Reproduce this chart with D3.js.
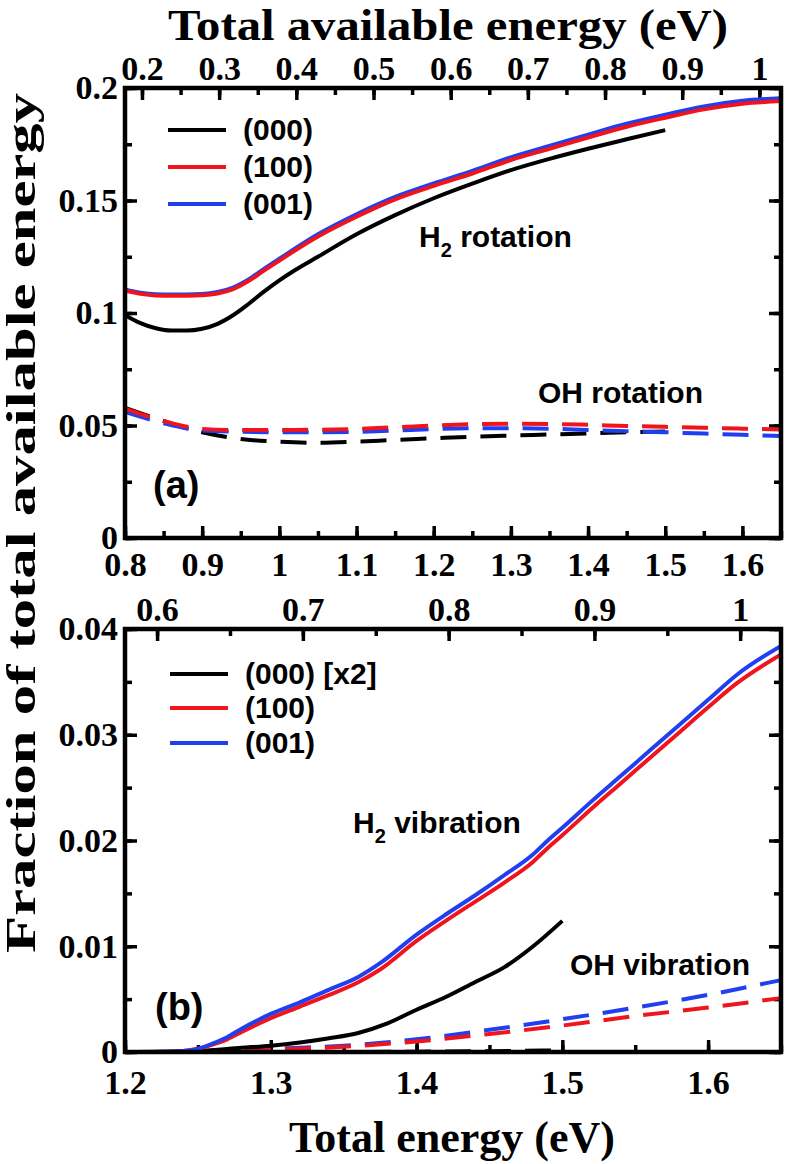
<!DOCTYPE html>
<html><head><meta charset="utf-8">
<script src="https://cdn.jsdelivr.net/npm/d3@7"></script>
<style>
html,body{margin:0;padding:0;background:#fff;}
svg{display:block;}
</style></head>
<body>
<svg id="chart" width="787" height="1164"></svg>
<script>
// ---------------- DATA ----------------
// Panel (a): rotation fractions vs total energy (eV)
const eA_black = [0.80,0.82,0.84,0.86,0.88,0.90,0.92,0.94,0.96,0.98,1.00,1.02,1.05,1.10,1.15,1.20,1.25,1.30,1.35,1.40,1.45,1.50];
const h2rot_000 = [0.0990,0.0955,0.0932,0.0922,0.0922,0.0930,0.0952,0.0990,0.1040,0.1095,0.1145,0.1190,0.1250,0.1350,0.1435,0.1510,0.1575,0.1635,0.1685,0.1730,0.1772,0.1813];
const eA_full = [0.80,0.82,0.84,0.86,0.88,0.90,0.92,0.94,0.96,0.98,1.00,1.05,1.10,1.15,1.20,1.25,1.30,1.35,1.40,1.45,1.50,1.55,1.60,1.65];
const h2rot_100 = [0.1100,0.1085,0.1078,0.1077,0.1077,0.1079,0.1087,0.1106,0.1142,0.1188,0.1233,0.1340,0.1428,0.1505,0.1565,0.1620,0.1680,0.1730,0.1780,0.1828,0.1868,0.1905,0.1930,0.1942];
const h2rot_001 = [0.1105,0.1090,0.1083,0.1082,0.1082,0.1084,0.1093,0.1113,0.1149,0.1196,0.1241,0.1350,0.1439,0.1516,0.1576,0.1632,0.1692,0.1743,0.1793,0.1841,0.1881,0.1918,0.1943,0.1955];
const eA_oh_black = [0.80,0.85,0.90,0.95,1.00,1.05,1.10,1.15,1.20,1.25,1.30,1.35,1.40,1.45,1.50];
const ohrot_000 = [0.0578,0.0520,0.0470,0.0440,0.0428,0.0423,0.0428,0.0436,0.0443,0.0450,0.0455,0.0460,0.0465,0.0470,0.0473];
const eA_oh = [0.80,0.85,0.90,0.95,1.00,1.05,1.10,1.15,1.20,1.25,1.30,1.35,1.40,1.45,1.50,1.55,1.60,1.65];
const ohrot_100 = [0.0575,0.0520,0.0485,0.0480,0.0480,0.0481,0.0485,0.0492,0.0500,0.0506,0.0508,0.0507,0.0503,0.0498,0.0494,0.0490,0.0486,0.0482];
const ohrot_001 = [0.0560,0.0510,0.0478,0.0472,0.0470,0.0470,0.0472,0.0478,0.0484,0.0488,0.0488,0.0486,0.0480,0.0475,0.0470,0.0464,0.0459,0.0453];

// Panel (b): vibration fractions vs total energy (eV)
const eB_full = [1.20,1.22,1.24,1.25,1.26,1.27,1.28,1.30,1.32,1.34,1.36,1.375,1.40,1.42,1.44,1.46,1.48,1.49,1.50,1.52,1.54,1.56,1.58,1.60,1.62,1.65];
const h2vib_100 = [0,0,0.0001,0.0003,0.0007,0.0012,0.0019,0.0032,0.0043,0.0054,0.0066,0.0078,0.0105,0.0124,0.0142,0.0160,0.0180,0.0193,0.0205,0.0230,0.0254,0.0278,0.0302,0.0326,0.0349,0.0376];
const h2vib_001 = [0,0,0.0001,0.0003,0.0008,0.0014,0.0022,0.0036,0.0047,0.0059,0.0071,0.0084,0.0111,0.0130,0.0148,0.0167,0.0187,0.0200,0.0212,0.0237,0.0261,0.0285,0.0309,0.0333,0.0357,0.0384];
const eB_black = [1.20,1.25,1.28,1.30,1.32,1.34,1.36,1.38,1.40,1.42,1.44,1.46,1.48,1.50];
const h2vib_000x2 = [0,0.0001,0.0004,0.0006,0.0009,0.0013,0.0018,0.0027,0.0040,0.0052,0.0066,0.0080,0.0100,0.0124];
const eB_oh = [1.20,1.25,1.30,1.35,1.40,1.45,1.50,1.55,1.60,1.65];
const ohvib_100 = [0,0,0.0002,0.0005,0.0010,0.0017,0.0025,0.0034,0.0042,0.0051];
const ohvib_001 = [0,0,0.0003,0.0006,0.0012,0.0021,0.0031,0.0042,0.0054,0.0068];
const eB_oh_black = [1.20,1.25,1.30,1.35,1.40,1.45,1.50];
const ohvib_000 = [0,0,0,0,0.00003,0.00008,0.00015];

// Axis ticks / labels
const xTicksA = [0.8,0.9,1.0,1.1,1.2,1.3,1.4,1.5,1.6];
const xTicksB = [1.2,1.3,1.4,1.5,1.6];
const topTicksA = [0.2,0.3,0.4,0.5,0.6,0.7,0.8,0.9,1.0];
const topTicksB = [0.6,0.7,0.8,0.9,1.0];
const yTicksA = [0,0.05,0.1,0.15,0.2];
const yTicksB = [0,0.01,0.02,0.03,0.04];
const legendLabelsA = ["(000)","(100)","(001)"];
const legendLabelsB = ["(000) [x2]","(100)","(001)"];
const seriesColors = ["#000000","#f0141c","#2040f0"];
const availOffset = 0.622; // total energy - available energy

// ---------------- DRAW ----------------
const svg = d3.select("#chart");
const fmt = d => String(+d.toFixed(3));
const SANS = "'Liberation Sans', Arial, Helvetica, sans-serif";
const SERIF = "'Liberation Serif', 'Times New Roman', serif";
const TICKFS = 34;

function panel(cfg){
  const {left,right,top,bottom} = cfg;
  const x = d3.scaleLinear().domain(cfg.xDomain).range([left,right]);
  const xt = d3.scaleLinear().domain([cfg.xDomain[0]-availOffset, cfg.xDomain[1]-availOffset]).range([left,right]);
  const y = d3.scaleLinear().domain(cfg.yDomain).range([bottom,top]);
  const g = svg.append("g");
  const MJ = 12, MN = 7;

  const minorX = d3.range(Math.round(cfg.xDomain[0]*20), Math.round(cfg.xDomain[1]*20)+1).map(v=>v/20);
  const minorXT = d3.range(Math.ceil((cfg.xDomain[0]-availOffset)*20-1e-6), Math.floor((cfg.xDomain[1]-availOffset)*20+1e-6)+1).map(v=>v/20);
  const minorY = d3.range(0, 9).map(v=>cfg.yDomain[0]+(cfg.yDomain[1]-cfg.yDomain[0])*v/8);

  function styleAxis(sel, fs){
    sel.select(".domain").remove();
    sel.selectAll(".tick line").attr("stroke","#000").attr("stroke-width",3.5);
    sel.selectAll(".tick text").attr("font-size",fs).attr("fill","#000").attr("font-family",SERIF).attr("font-weight","bold");
  }
  // bottom
  g.append("g").attr("transform",`translate(0,${bottom})`)
    .call(d3.axisBottom(x).tickValues(minorX).tickSize(-MN).tickFormat("")).call(s=>styleAxis(s,0));
  g.append("g").attr("transform",`translate(0,${bottom})`)
    .call(d3.axisBottom(x).tickValues(cfg.xTicks).tickSize(-MJ).tickPadding(cfg.xPad).tickFormat(fmt)).call(s=>styleAxis(s,TICKFS))
    .selectAll("text").attr("dy","0.71em");
  // top
  g.append("g").attr("transform",`translate(0,${top})`)
    .call(d3.axisTop(xt).tickValues(minorXT).tickSize(-MN).tickFormat("")).call(s=>styleAxis(s,0));
  g.append("g").attr("transform",`translate(0,${top})`)
    .call(d3.axisTop(xt).tickValues(cfg.topTicks).tickSize(-MJ).tickPadding(8).tickFormat(fmt)).call(s=>styleAxis(s,TICKFS));
  // left
  g.append("g").attr("transform",`translate(${left},0)`)
    .call(d3.axisLeft(y).tickValues(minorY).tickSize(-MN).tickFormat("")).call(s=>styleAxis(s,0));
  g.append("g").attr("transform",`translate(${left},0)`)
    .call(d3.axisLeft(y).tickValues(cfg.yTicks).tickSize(-MJ).tickPadding(7).tickFormat(fmt)).call(s=>styleAxis(s,TICKFS));
  // right
  g.append("g").attr("transform",`translate(${right},0)`)
    .call(d3.axisRight(y).tickValues(minorY).tickSize(-MN).tickFormat("")).call(s=>styleAxis(s,0));
  g.append("g").attr("transform",`translate(${right},0)`)
    .call(d3.axisRight(y).tickValues(cfg.yTicks).tickSize(-MJ).tickFormat("")).call(s=>styleAxis(s,0));

  // clip
  const cid = "clip"+cfg.id;
  svg.append("clipPath").attr("id",cid).append("rect")
    .attr("x",left).attr("y",top-3).attr("width",right-left).attr("height",bottom-top+3);
  const lg = g.append("g").attr("clip-path",`url(#${cid})`);
  const line = d3.line().x(d=>x(d[0])).y(d=>y(d[1])).curve(d3.curveMonotoneX);
  cfg.series.forEach(s=>{
    lg.append("path").datum(d3.zip(s.x,s.y)).attr("d",line)
      .attr("fill","none").attr("stroke",s.color).attr("stroke-width",4)
      .attr("stroke-dasharray",s.dash?"26,14":null).attr("stroke-linejoin","round");
  });

  // frame
  g.append("rect").attr("x",left).attr("y",top).attr("width",right-left).attr("height",bottom-top)
    .attr("fill","none").attr("stroke","#000").attr("stroke-width",4.5);

  // legend
  cfg.legend.forEach((lab,i)=>{
    const ly = cfg.legendY[i];
    g.append("line").attr("x1",cfg.legendX).attr("x2",cfg.legendX+58).attr("y1",ly).attr("y2",ly)
      .attr("stroke",seriesColors[i]).attr("stroke-width",4);
    g.append("text").attr("x",cfg.legendX+75).attr("y",ly+10).text(lab)
      .attr("font-family",SANS).attr("font-weight","bold").attr("font-size",30).attr("fill","#000");
  });
  // annotations
  cfg.notes.forEach(n=>{
    const t = g.append("text").attr("x",n.x).attr("y",n.y)
      .attr("font-family",SANS).attr("font-weight","bold").attr("font-size",n.fs||30).attr("fill","#000");
    if(n.sub){
      t.append("tspan").text(n.pre);
      t.append("tspan").text(n.sub).attr("font-size",20).attr("dy",10);
      t.append("tspan").text(n.post).attr("dy",-10);
    } else t.text(n.text);
  });
}

panel({
  id:"A", left:125, right:781, top:88, bottom:538, xPad:14,
  xDomain:[0.8,1.65], yDomain:[0,0.2],
  xTicks:xTicksA, topTicks:topTicksA, yTicks:yTicksA,
  series:[
    {x:eA_oh_black,y:ohrot_000,color:seriesColors[0],dash:true},
    {x:eA_oh,y:ohrot_001,color:seriesColors[2],dash:true},
    {x:eA_oh,y:ohrot_100,color:seriesColors[1],dash:true},
    {x:eA_black,y:h2rot_000,color:seriesColors[0]},
    {x:eA_full,y:h2rot_001,color:seriesColors[2]},
    {x:eA_full,y:h2rot_100,color:seriesColors[1]}
  ],
  legend:legendLabelsA, legendX:168, legendY:[130,167,204],
  notes:[
    {x:419,y:247,pre:"H",sub:"2",post:" rotation"},
    {x:538,y:403,text:"OH rotation"},
    {x:153,y:498,text:"(a)",fs:38}
  ]
});

panel({
  id:"B", left:125, right:781, top:629, bottom:1052, xPad:18,
  xDomain:[1.2,1.65], yDomain:[0,0.04],
  xTicks:xTicksB, topTicks:topTicksB, yTicks:yTicksB,
  series:[
    {x:eB_oh_black,y:ohvib_000,color:seriesColors[0],dash:true},
    {x:eB_oh,y:ohvib_001,color:seriesColors[2],dash:true},
    {x:eB_oh,y:ohvib_100,color:seriesColors[1],dash:true},
    {x:eB_black,y:h2vib_000x2,color:seriesColors[0]},
    {x:eB_full,y:h2vib_100,color:seriesColors[1]},
    {x:eB_full,y:h2vib_001,color:seriesColors[2]}
  ],
  legend:legendLabelsB, legendX:170, legendY:[674,708,743],
  notes:[
    {x:353,y:833,pre:"H",sub:"2",post:" vibration"},
    {x:570,y:975,text:"OH vibration"},
    {x:155,y:1020,text:"(b)",fs:38}
  ]
});

// titles
svg.append("text").attr("x",448).attr("y",40).attr("text-anchor","middle")
  .attr("font-family",SERIF).attr("font-weight","bold").attr("font-size",45)
  .attr("textLength",560).attr("lengthAdjust","spacingAndGlyphs").text("Total available energy (eV)");
svg.append("text").attr("x",452).attr("y",1152).attr("text-anchor","middle")
  .attr("font-family",SERIF).attr("font-weight","bold").attr("font-size",44).text("Total energy (eV)");
svg.append("text").attr("transform","translate(35,523) rotate(-90)").attr("text-anchor","middle")
  .attr("font-family",SERIF).attr("font-weight","bold").attr("font-size",42)
  .attr("textLength",860).attr("lengthAdjust","spacingAndGlyphs").text("Fraction of total available energy");
</script>
</body></html>
